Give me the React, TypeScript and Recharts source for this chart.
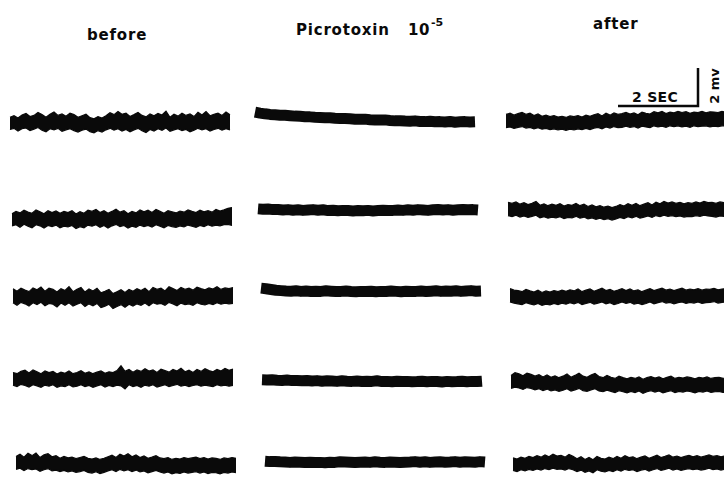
import React from "react";
import { ComposedChart, Line, Area, XAxis, YAxis } from "recharts";

// Column titles and scale-bar labels
const conditions = ["before", "Picrotoxin", "after"];
const doseBase = "10";
const doseExp = "-5";
const scaleTime = "2 SEC";
const scaleVolt = "2 mv";

// sampling steps (s) of the hand-read traces
const NOISY_STEP = 0.1;
const SMOOTH_STEP = 0.125;

// All amplitudes in 0.01 mV. Noisy records are read as upper / lower envelope of the ink band.
const before1Top = [30, 38, 26, 42, 50, 34, 40, 55, 44, 30, 46, 58, 40, 48, 36, 52, 44, 30, 38, 46, 28, 22, 34, 26, 38, 54, 44, 60, 46, 52, 34, 44, 56, 40, 32, 48, 38, 50, 42, 62, 30, 46, 36, 52, 40, 48, 34, 56, 42, 60, 38, 46, 52, 40, 58, 44];
const before1Bot = [-34, -28, -42, -30, -26, -40, -32, -24, -38, -46, -30, -36, -28, -44, -36, -30, -40, -48, -38, -32, -46, -52, -40, -48, -36, -28, -38, -30, -42, -34, -46, -36, -28, -40, -50, -34, -42, -30, -38, -26, -44, -36, -30, -40, -34, -46, -38, -28, -36, -30, -42, -34, -28, -38, -30, -36];
const before2Top = [28, 40, 32, 46, 36, 30, 48, 38, 28, 44, 34, 42, 30, 40, 34, 44, 26, 38, 30, 46, 40, 50, 34, 44, 30, 40, 52, 36, 44, 28, 40, 32, 48, 38, 46, 34, 50, 40, 30, 44, 38, 32, 42, 36, 48, 40, 34, 46, 38, 44, 36, 50, 42, 48, 56, 60];
const before2Bot = [-36, -30, -44, -28, -38, -46, -30, -36, -48, -34, -40, -32, -46, -38, -42, -34, -50, -40, -46, -32, -38, -30, -44, -34, -48, -36, -28, -40, -34, -48, -38, -44, -32, -40, -34, -42, -30, -38, -46, -34, -40, -44, -36, -42, -32, -38, -44, -34, -40, -30, -38, -32, -36, -30, -28, -34];
const before3Top = [44, 30, 46, 36, 28, 48, 38, 52, 30, 46, 40, 26, 44, 34, 54, 28, 40, 50, 26, 42, 32, 46, 22, 30, 40, 18, 28, 38, 24, 40, 30, 44, 34, 46, 28, 50, 40, 46, 32, 54, 44, 34, 50, 40, 46, 36, 52, 44, 38, 48, 42, 54, 40, 48, 44, 50];
const before3Bot = [-30, -44, -28, -36, -48, -30, -40, -28, -46, -34, -38, -52, -32, -44, -30, -48, -38, -30, -50, -36, -46, -34, -56, -48, -38, -60, -50, -40, -54, -38, -48, -36, -44, -32, -46, -30, -38, -34, -44, -28, -36, -46, -32, -40, -36, -44, -30, -38, -42, -34, -40, -30, -38, -32, -36, -34];
const before4Top = [34, 28, 40, 46, 32, 48, 38, 28, 42, 34, 40, 26, 36, 30, 42, 28, 34, 44, 30, 38, 28, 36, 42, 30, 38, 34, 44, 70, 40, 50, 36, 48, 40, 54, 42, 48, 34, 52, 44, 36, 50, 42, 56, 38, 46, 34, 50, 40, 54, 44, 38, 50, 42, 56, 46, 52];
const before4Bot = [-32, -40, -28, -34, -42, -30, -36, -44, -32, -38, -30, -44, -36, -40, -30, -42, -38, -30, -40, -34, -44, -36, -30, -42, -34, -40, -32, -36, -52, -30, -40, -34, -44, -32, -38, -30, -42, -36, -30, -40, -34, -28, -38, -32, -40, -34, -30, -38, -32, -36, -40, -30, -36, -32, -38, -34];
const before5Top = [40, 52, 36, 56, 44, 58, 34, 48, 54, 38, 44, 30, 40, 32, 36, 28, 34, 40, 30, 26, 32, 24, 30, 38, 46, 34, 52, 42, 54, 38, 48, 34, 42, 30, 36, 44, 32, 28, 34, 24, 30, 26, 34, 28, 32, 36, 28, 34, 26, 32, 30, 24, 32, 28, 34, 30];
const before5Bot = [-28, -22, -34, -24, -30, -26, -38, -30, -24, -36, -32, -40, -34, -42, -36, -44, -40, -34, -44, -48, -40, -50, -44, -36, -30, -40, -28, -36, -30, -40, -32, -42, -36, -46, -40, -34, -42, -48, -42, -52, -46, -50, -42, -48, -44, -40, -48, -42, -50, -44, -46, -52, -44, -48, -42, -46];

const picro1 = [52, 47, 43, 40, 38, 36, 35, 33, 31, 30, 28, 27, 25, 24, 23, 22, 20, 19, 18, 17, 15, 14, 15, 12, 11, 10, 11, 8, 6, 7, 5, 4, 6, 3, 2, 4, 1, 2, 0, 3, -1, 1, 2, 0, 1];
const picro2 = [6, 4, 5, 2, 3, 0, 2, -1, 1, -2, 0, 2, -1, 1, -3, -1, -4, -2, -3, -5, -3, -4, -2, -5, -3, -1, -3, -2, 0, -2, 1, -1, 2, 0, -2, 1, 3, 0, 2, -1, 1, 3, 1, 2, 0];
const picro3 = [15, 12, 8, 4, 2, 0, -1, 1, -2, 0, -3, -1, -2, 1, -1, -3, -2, 0, -3, -4, -2, -3, -1, -4, -2, -3, 0, -2, -4, -1, -3, -2, 0, -3, -1, 1, -2, 0, -1, 1, -2, 0, 2, -1, 0];
const picro4 = [6, 5, 7, 4, 3, 5, 2, 3, 1, 3, 0, 2, -1, 1, 0, -2, 1, -1, -2, 0, -3, -1, -2, 1, -3, -2, -4, -1, -3, -2, -4, -3, -1, -4, -2, -3, -5, -2, -4, -3, -1, -4, -2, -3, -1];
const picro5 = [4, 2, 3, 1, 0, -2, 0, -1, -3, -1, -3, -2, -4, -1, -2, 1, 0, -1, -3, -1, 0, -2, 1, -1, -2, 0, -1, -3, -1, 0, 2, -1, 1, -2, 0, 1, -1, 0, 2, -1, 1, 0, -1, 2, 0];

const after1Top = [40, 46, 36, 44, 50, 40, 46, 34, 42, 30, 36, 28, 34, 26, 30, 24, 32, 28, 34, 26, 36, 30, 38, 44, 32, 46, 36, 48, 40, 44, 50, 42, 48, 38, 52, 46, 42, 54, 48, 56, 44, 52, 48, 56, 50, 54, 46, 52, 50, 56, 48, 54, 52, 50, 56, 52];
const after1Bot = [-30, -26, -34, -28, -24, -32, -28, -36, -30, -38, -34, -40, -36, -42, -38, -44, -38, -42, -36, -40, -34, -40, -32, -28, -36, -26, -32, -24, -30, -28, -22, -28, -24, -32, -22, -26, -30, -20, -26, -22, -28, -20, -24, -20, -26, -22, -28, -20, -24, -22, -20, -26, -22, -24, -20, -22];
const after2Top = [46, 40, 48, 36, 44, 34, 40, 50, 30, 38, 28, 36, 30, 38, 26, 34, 30, 40, 28, 36, 24, 32, 22, 28, 20, 26, 18, 24, 34, 26, 38, 30, 40, 28, 36, 44, 32, 46, 38, 50, 42, 48, 40, 46, 38, 44, 40, 48, 42, 50, 44, 46, 40, 48, 44, 46];
const after2Bot = [-24, -30, -22, -32, -26, -34, -28, -22, -36, -30, -38, -32, -36, -30, -40, -34, -36, -28, -38, -32, -42, -36, -44, -38, -46, -40, -48, -42, -34, -40, -30, -36, -28, -38, -32, -26, -34, -24, -30, -22, -28, -24, -30, -26, -32, -28, -30, -24, -28, -22, -26, -28, -32, -26, -28, -30];
const after3Top = [44, 36, 34, 28, 40, 32, 26, 36, 24, 32, 26, 34, 28, 36, 30, 38, 32, 42, 28, 36, 42, 30, 38, 46, 34, 40, 30, 36, 44, 34, 42, 32, 38, 28, 36, 44, 34, 40, 46, 36, 42, 34, 40, 46, 36, 42, 38, 44, 36, 42, 40, 46, 38, 42, 44, 40];
const after3Bot = [-26, -32, -36, -40, -30, -36, -42, -34, -44, -38, -42, -34, -40, -32, -38, -30, -36, -28, -40, -34, -28, -38, -32, -26, -36, -30, -40, -34, -26, -34, -28, -38, -32, -40, -34, -26, -36, -30, -24, -32, -28, -36, -30, -26, -34, -28, -32, -26, -34, -30, -28, -24, -32, -28, -26, -30];
const after4Top = [40, 54, 48, 38, 52, 46, 36, 44, 32, 42, 30, 38, 28, 36, 48, 30, 40, 52, 36, 30, 42, 50, 34, 28, 40, 30, 24, 36, 28, 22, 30, 24, 32, 20, 28, 34, 26, 32, 22, 30, 36, 24, 30, 26, 32, 28, 22, 30, 26, 32, 24, 28, 30, 24, 28, 26];
const after4Bot = [-28, -22, -26, -34, -24, -28, -36, -30, -40, -32, -42, -36, -44, -38, -30, -42, -36, -28, -40, -44, -36, -30, -42, -46, -38, -44, -50, -40, -46, -52, -44, -50, -42, -54, -46, -40, -48, -42, -52, -46, -40, -50, -44, -48, -42, -46, -52, -44, -48, -42, -50, -46, -44, -50, -46, -48];
const after5Top = [32, 26, 36, 30, 40, 34, 44, 36, 48, 38, 52, 42, 46, 36, 50, 40, 28, 38, 24, 34, 22, 40, 30, 26, 36, 28, 40, 30, 44, 34, 38, 28, 36, 42, 30, 38, 46, 34, 40, 48, 36, 42, 34, 40, 46, 38, 44, 36, 42, 48, 40, 44, 38, 42, 46, 40];
const after5Bot = [-34, -40, -30, -36, -28, -34, -26, -32, -24, -30, -22, -28, -26, -32, -24, -30, -40, -32, -44, -36, -46, -30, -38, -42, -34, -40, -30, -38, -28, -34, -30, -40, -32, -28, -38, -30, -24, -34, -28, -22, -32, -26, -34, -28, -24, -30, -26, -32, -28, -22, -30, -26, -32, -28, -24, -30];

type Rec = { kind: "band"; top: number[]; bot: number[] } | { kind: "line"; vals: number[] };
const band = (top: number[], bot: number[]): Rec => ({ kind: "band", top, bot });
const line = (vals: number[]): Rec => ({ kind: "line", vals });

const beforeRecs = [band(before1Top, before1Bot), band(before2Top, before2Bot), band(before3Top, before3Bot), band(before4Top, before4Bot), band(before5Top, before5Bot)];
const picroRecs = [line(picro1), line(picro2), line(picro3), line(picro4), line(picro5)];
const afterRecs = [band(after1Top, after1Bot), band(after2Top, after2Bot), band(after3Top, after3Bot), band(after4Top, after4Bot), band(after5Top, after5Bot)];

// ---- layout (pixels), kept apart from the data ----
const PAD = 6;
const PLOT_W = 220; // 5.5 s at 40 px/s
const PLOT_H = 38; // 2 mV at 19 px/mV
const layout = [
  { recs: beforeRecs, left: [10, 12, 13, 13, 16], center: [123, 219, 297, 379, 464] },
  { recs: picroRecs, left: [255, 258, 261, 262, 265], center: [122, 210, 291, 381, 462] },
  { recs: afterRecs, left: [506, 508, 510, 511, 513], center: [122, 211, 297, 383, 464] },
];
const INK = "#0a0a0a";

function Trace({ rec }: { rec: Rec }) {
  const data =
    rec.kind === "band"
      ? rec.top.map((h, i) => ({ t: i * NOISY_STEP, band: [rec.bot[i], h] }))
      : rec.vals.map((v, i) => ({ t: i * SMOOTH_STEP, v }));
  return (
    <ComposedChart
      width={PLOT_W + 2 * PAD}
      height={PLOT_H + 2 * PAD}
      data={data}
      margin={{ top: PAD, right: PAD, bottom: PAD, left: PAD }}
    >
      <XAxis dataKey="t" type="number" domain={[0, 5.5]} hide />
      <YAxis type="number" domain={[-100, 100]} hide allowDataOverflow />
      {rec.kind === "band" ? (
        <Area
          type="linear"
          dataKey="band"
          stroke={INK}
          strokeWidth={1.2}
          fill={INK}
          fillOpacity={1}
          dot={false}
          activeDot={false}
          isAnimationActive={false}
        />
      ) : (
        <Line
          type="linear"
          dataKey="v"
          stroke={INK}
          strokeWidth={11}
          strokeLinejoin="round"
          strokeLinecap="butt"
          dot={false}
          activeDot={false}
          isAnimationActive={false}
        />
      )}
    </ComposedChart>
  );
}

const font = "'DejaVu Sans', sans-serif";

export default function App() {
  return (
    <div
      style={{
        position: "fixed",
        left: 0,
        top: 0,
        width: 724,
        height: 477,
        overflow: "hidden",
        background: "#fff",
      }}
    >
      {layout.map((col, ci) =>
        col.recs.map((rec, ri) => (
          <div
            key={`${ci}-${ri}`}
            style={{
              position: "absolute",
              left: col.left[ri] - PAD,
              top: col.center[ri] - PAD - PLOT_H / 2,
            }}
          >
            <Trace rec={rec} />
          </div>
        ))
      )}
      <svg
        width={724}
        height={477}
        style={{ position: "absolute", left: 0, top: 0, pointerEvents: "none" }}
      >
        <g fontFamily={font} fontWeight="bold" fill={INK}>
          <text x={87} y={40} fontSize={15} letterSpacing={0.8}>
            {conditions[0]}
          </text>
          <text x={296} y={35} fontSize={15} letterSpacing={0.8}>
            {conditions[1]}
          </text>
          <text x={408} y={35} fontSize={15} letterSpacing={0.5}>
            {doseBase}
          </text>
          <text x={431} y={26} fontSize={11}>
            {doseExp}
          </text>
          <text x={593} y={29} fontSize={15} letterSpacing={0.8}>
            {conditions[2]}
          </text>
          <text x={632} y={102} fontSize={14} letterSpacing={0.3}>
            {scaleTime}
          </text>
          <text x={719} y={86} fontSize={13} textAnchor="middle" transform="rotate(-90 719 86)">
            {scaleVolt}
          </text>
        </g>
        <path d="M618 106 H698 V68" stroke={INK} strokeWidth={2.5} fill="none" />
      </svg>
    </div>
  );
}
